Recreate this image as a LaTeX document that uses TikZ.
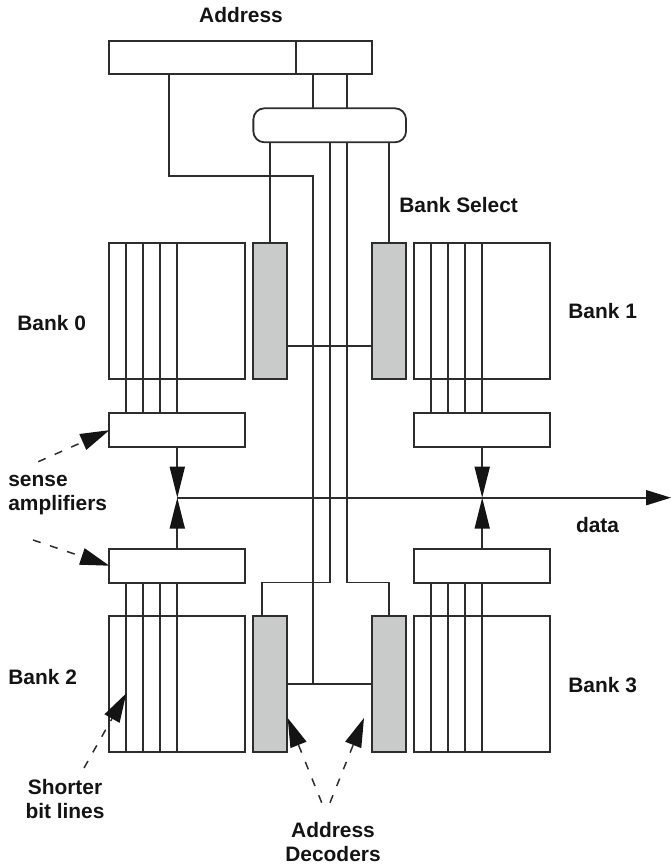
\documentclass[tikz,border=0pt]{standalone}
\usepackage{fontspec}
\setmainfont{Liberation Sans}
\usetikzlibrary{arrows.meta,calc}
\definecolor{WireGray}{RGB}{45,45,45}
\definecolor{TipBlack}{RGB}{20,20,20}
\definecolor{DecoderGray}{RGB}{200,203,201}
\tikzset{
  box/.style={draw=WireGray, fill=white, line width=0.036cm, inner sep=0pt, outer sep=0pt},
  bank/.style={box, minimum width=2.72cm, minimum height=2.72cm},
  amp/.style={box, minimum width=2.72cm, minimum height=0.68cm},
  decoder/.style={box, fill=DecoderGray, minimum width=0.68cm, minimum height=2.72cm},
  wire/.style={draw=WireGray, line width=0.036cm},
  callout/.style={wire, line width=0.03cm, dash pattern=on 0.16cm off 0.2cm,
    -{Triangle[length=0.58cm, width=0.34cm, color=TipBlack]}},
  merge/.style={wire, -{Triangle[length=0.62cm, width=0.3cm, color=TipBlack]}},
  lab/.style={font=\fontsize{11.9}{13.9}\selectfont\bfseries, text=TipBlack, inner sep=0pt}
}

\begin{document}
\begin{tikzpicture}[x=0.02cm, y=-0.02cm]
\useasboundingbox (0,0) rectangle (671,866);
% address register and bank decode
\node[box, minimum width=3.734cm, minimum height=0.667cm] (regrow) at (202.65,57.3) {};
\node[box, minimum width=1.526cm, minimum height=0.667cm] (regbank) at (334.15,57.3) {};
\node[box, rounded corners=0.22cm, minimum width=3.054cm, minimum height=0.68cm] (predec) at (329.7,125.3) {};
% banks, sense amps, decoders
\foreach \n/\x/\y in {0/177.3/311.3, 1/482.2/311.3, 2/177.3/684.3, 3/482.2/684.3}
    \node[bank] (bank\n) at (\x,\y) {};
\foreach \n/\x/\y in {0/177.3/430.2, 1/482.2/430.2, 2/177.3/565.7, 3/482.2/565.7}
    \node[amp] (amp\n) at (\x,\y) {};
\foreach \n/\x/\y in {0/270.3/311.3, 1/389.3/311.3, 2/270.3/684.3, 3/389.3/684.3}
    \node[decoder] (dec\n) at (\x,\y) {};
% bit lines
\foreach \i in {1,2,3,4} {
    \draw[wire] ($(bank0.north west)!\i/8!(bank0.north east)$) -- ($(amp0.north west)!\i/8!(amp0.north east)$);
    \draw[wire] ($(bank1.north west)!\i/8!(bank1.north east)$) -- ($(amp1.north west)!\i/8!(amp1.north east)$);
    \draw[wire] ($(amp2.south west)!\i/8!(amp2.south east)$) -- ($(bank2.south west)!\i/8!(bank2.south east)$);
    \draw[wire] ($(amp3.south west)!\i/8!(amp3.south east)$) -- ($(bank3.south west)!\i/8!(bank3.south east)$);
}
% named points on the wires
\coordinate (rowtap) at (168.7,74);
\coordinate (rowbend) at (313,175.7);
\coordinate (rowend) at (313,684.3);
\coordinate (seltapA) at (313,74);
\coordinate (seltapB) at (346.7,74);
\coordinate (linkA) at (313,345.7);
\coordinate (busA) at (329.7,582.4);
\coordinate (busB) at (346.7,582.4);
\coordinate (dectap) at (262,616.7);
\coordinate (juncA) at (177.3,497.7);
\coordinate (juncB) at (482.2,497.7);
\coordinate (dataend) at (671,497.7);
% address wires
\draw[wire] (rowtap) |- (rowbend) -- (rowend);
\draw[wire] (seltapA) -- (seltapA |- predec.north);
\draw[wire] (seltapB) -- (seltapB |- predec.north);
\draw[wire] (dec0.north) -- (dec0.north |- predec.south);
\draw[wire] (dec1.north) -- (dec1.north |- predec.south);
\draw[wire] (busA |- predec.south) -- (busA) -| (dectap);
\draw[wire] (busB |- predec.south) -- (busB) -| (dec3.north);
\draw[wire] (dec0.east |- linkA) -- (dec1.west |- linkA);
\draw[wire] (dec2.east) -- (dec3.west);
% data path
\draw[merge] (amp0.south) -- (juncA);
\draw[merge] (amp2.north) -- (juncA);
\draw[merge] (amp1.south) -- (juncB);
\draw[merge] (amp3.north) -- (juncB);
\draw[wire, -{Triangle[length=0.5cm, width=0.3cm, color=TipBlack]}] (juncA) -- (dataend);
% labels
\node[lab] (addrlab) at (241,15.5) {Address};
\node[lab, anchor=west] (sellab) at (399,205) {Bank Select};
\node[lab, anchor=west] (lab0) at (17,323) {Bank 0};
\node[lab, anchor=west] (lab1) at (568,311) {Bank 1};
\node[lab, anchor=west] (lab2) at (8,677) {Bank 2};
\node[lab, anchor=west] (lab3) at (568,685) {Bank 3};
\node[lab, anchor=west, align=left] (senselab) at (8,495) {sense\\amplifiers};
\node[lab, anchor=west] (datalab) at (575.7,525) {data};
\node[lab, align=center] (shortlab) at (65,799) {Shorter\\bit lines};
\node[lab, align=center] (declab) at (333,842) {Address\\Decoders};
% callouts
\coordinate (senseA) at (38.3,461.7);
\coordinate (senseB) at (33,540);
\coordinate (shortA) at (84,768);
\coordinate (shortB) at (126.3,693.3);
\coordinate (decA) at (321.7,802.7);
\coordinate (decAend) at (287.7,718);
\coordinate (decB) at (330,802.7);
\coordinate (decBend) at (364,718);
\draw[callout] (senseA) -- (amp0.west);
\draw[callout] (senseB) -- (amp2.west);
\draw[callout] (shortA) -- (shortB);
\draw[callout] (decA) -- (decAend);
\draw[callout] (decB) -- (decBend);
\end{tikzpicture}
\end{document}
